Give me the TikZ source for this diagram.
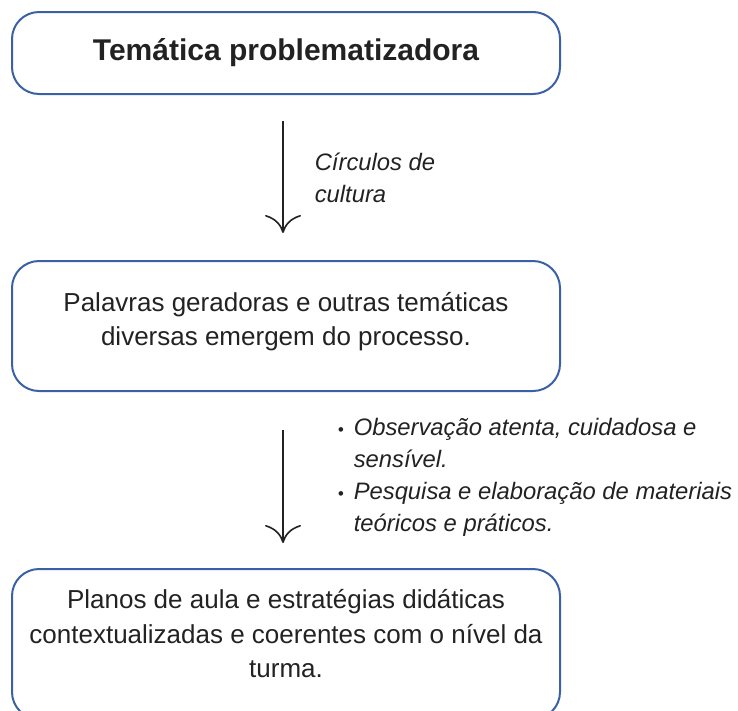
\documentclass[tikz,border=0pt]{standalone}
\usepackage{fontspec}
\setmainfont{Liberation Sans}
\usetikzlibrary{positioning,arrows.meta}

\definecolor{boxblue}{RGB}{58,96,166}
\definecolor{inkgray}{RGB}{34,34,34}
\newcommand\smalldot{{\fontsize{17}{17}\selectfont\textbullet}}
\newcommand\tailgap[1]{\\[-#1]\mbox{}}

\begin{document}
\begin{tikzpicture}[x=1pt,y=1pt,node distance=165pt,
        stage box/.style={draw=boxblue,line width=2pt,rounded corners=27pt,
            minimum width=548pt,align=center,text=inkgray,
            font=\fontsize{26}{34.5}\selectfont},
        note/.style={align=left,inner sep=0pt,text=inkgray,
            font=\fontsize{23.8}{32}\selectfont\itshape},
        flow/.style={-{To[length=18pt,width=36pt]},line width=1.6pt,inkgray}]

        \useasboundingbox (0,0) rectangle (738,-710);

        % Boxes
        \node[stage box,minimum height=82pt,font=\fontsize{30}{34}\selectfont\bfseries]
            (tematica) at (286,-53) {Temática problematizadora};
        \node[stage box,minimum height=130pt] (palavras) [below=of tematica]
            {Palavras geradoras e outras temáticas\\diversas emergem do processo.\tailgap{20pt}};
        \node[stage box,minimum height=150pt] (planos) [below=176pt of palavras]
            {Planos de aula e estratégias didáticas\\contextualizadas e coerentes com o nível da\\turma.\tailgap{14pt}};

        % Arrows and their notes
        \draw[flow,shorten <=26pt,shorten >=27pt]
            ([xshift=-3pt]tematica.south) -- ([xshift=-3pt]palavras.north)
            node[note,midway,anchor=west,xshift=31pt] {Círculos de\\cultura};
        \draw[flow,shorten <=38pt,shorten >=25pt]
            ([xshift=-3pt]palavras.south) -- ([xshift=-3pt]planos.north)
            node[note,midway,anchor=west,xshift=54pt,yshift=3pt]
            {\begin{tabular}{@{}l@{\hspace{10pt}}l@{}}
                \smalldot & Observação atenta, cuidadosa e\\
                          & sensível.\\
                \smalldot & Pesquisa e elaboração de materiais\\
                          & teóricos e práticos.
            \end{tabular}};

\end{tikzpicture}
\end{document}
